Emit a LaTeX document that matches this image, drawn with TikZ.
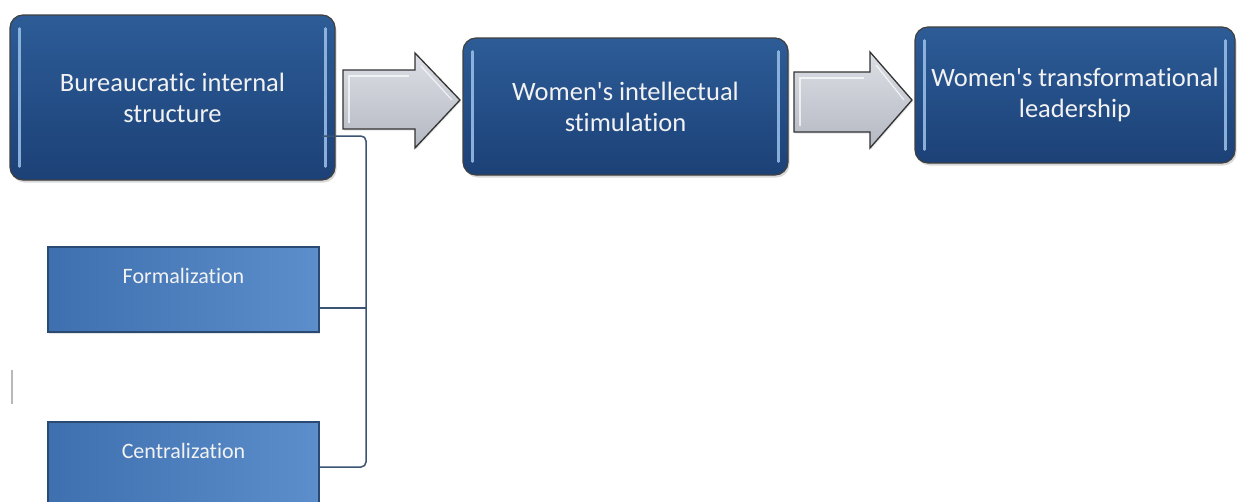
\documentclass[tikz,border=0pt]{standalone}
\usepackage{fontspec}
\setmainfont{Carlito}[Ligatures={TeXOff,NoCommon}]
\usetikzlibrary{shadows,calc}
\definecolor{topblue}{HTML}{2D5C97}
\definecolor{botblue}{HTML}{1C4177}
\definecolor{lblueL}{HTML}{3E6FAE}
\definecolor{lblueR}{HTML}{5C8ECC}
\definecolor{lborder}{HTML}{2A4A74}
\definecolor{hlblue}{HTML}{9CC2EA}
\definecolor{connc}{HTML}{3A5472}
\definecolor{arrtop}{HTML}{DCDFE5}
\definecolor{arrbot}{HTML}{B4B8C2}
\begin{document}
\begin{tikzpicture}[x=1pt,y=-1pt,
  bigbox/.style={rounded corners=13pt, draw=black!75, line width=1.2pt,
    top color=topblue, bottom color=botblue, text=white!95!black, align=center,
    font=\fontsize{26.5}{31}\selectfont, inner sep=0pt,
    drop shadow={opacity=0.3, shadow xshift=1.5pt, shadow yshift=-2.5pt}},
  smallbox/.style={draw=lborder, line width=1.4pt, left color=lblueL, right color=lblueR,
    text=white!95!black, align=center, font=\fontsize{22}{26}\selectfont,
    inner sep=0pt, text height=16pt, text depth=29pt,
    minimum width=271pt, minimum height=85pt,
    drop shadow={opacity=0.2, shadow xshift=1pt, shadow yshift=-2pt}},
  hl/.style={draw=hlblue, line width=2.4pt, line cap=round, opacity=0.85},
  conn/.style={draw=connc, line width=1.5pt},
  blockarrow/.style={draw=black!80, line width=1.3pt, line join=miter,
    top color=arrtop, bottom color=arrbot,
    drop shadow={opacity=0.2, shadow xshift=1pt, shadow yshift=-1.5pt}},
  bevel/.style={draw=white, line width=1.2pt, opacity=0.7}
]
\useasboundingbox (0,0) rectangle (1239,501);
\clip (0,0) rectangle (1239,501);
\fill[white] (0,0) rectangle (1239,501);

% main boxes
\node[bigbox, minimum width=325pt, minimum height=165pt] (b1) at (172.5,97.5)
  {Bureaucratic internal\\structure};
\node[bigbox, minimum width=325pt, minimum height=137pt] (b2) at (625.5,106.5)
  {Women's intellectual\\stimulation};
\node[bigbox, minimum width=320pt, minimum height=136pt] (b3) at (1075,95)
  {Women's transformational\\leadership};

\foreach \n in {b1,b2,b3}{
  \draw[hl] ([xshift=10pt,yshift=-14pt]\n.north west) -- ([xshift=10pt,yshift=14pt]\n.south west);
  \draw[hl] ([xshift=-10pt,yshift=-14pt]\n.north east) -- ([xshift=-10pt,yshift=14pt]\n.south east);
}

% block arrows
\path[blockarrow] (343,70) -- (415,70) -- (415,53) -- (460,100) -- (415,148)
  -- (415,129) -- (343,129) -- cycle;
\draw[bevel] (349,123) -- (349,76) -- (409,76);
\draw[bevel] (421,66) -- (452,100);
\path[blockarrow] (794,72) -- (870,72) -- (870,52) -- (912,100) -- (870,148)
  -- (870,132) -- (794,132) -- cycle;
\draw[bevel] (800,126) -- (800,78) -- (864,78);
\draw[bevel] (876,65) -- (904,100);

% sub boxes
\node[smallbox] (form) at (183.5,289.5) {Formalization};
\node[smallbox] (cent) at (183.5,464.5) {Centralization};

% bracket connector
\coordinate (c0) at (322,136);
\coordinate (tt) at (366,136);
\coordinate (tb) at (366,467);
\coordinate (fy) at (0,308);
\draw[conn, rounded corners=5pt] (c0) -- (tt) -- (tb) -- (cent.east |- tb);
\draw[conn] (form.east |- fy) -- (tt |- fy);

% stray mark
\coordinate (m1) at (12,370);
\coordinate (m2) at (12,404);
\draw[gray!55, line width=1.5pt] (m1) -- (m2);
\end{tikzpicture}
\end{document}
